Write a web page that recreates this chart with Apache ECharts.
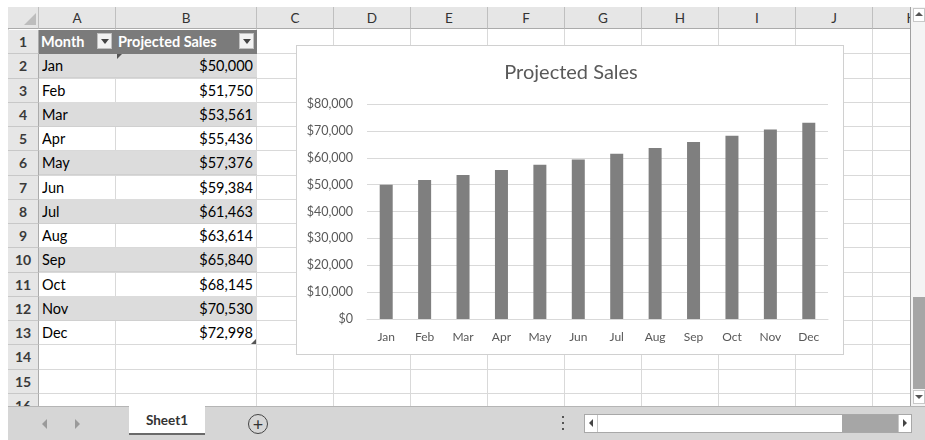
<!DOCTYPE html>
<html>
<head>
<meta charset="utf-8">
<script src="https://cdn.jsdelivr.net/npm/echarts@6/dist/echarts.min.js"></script>
<style>
  html,body{margin:0;padding:0;background:#fff;}
  body{width:925px;height:440px;position:relative;overflow:hidden;font-family:Lato,"Open Sans",sans-serif;}
  .abs{position:absolute;box-sizing:border-box;}
  #sheet{position:absolute;left:8px;top:7px;width:902px;height:399px;overflow:hidden;}
  .hl{position:absolute;height:1px;background:#d9d9d9;}
  .vl{position:absolute;width:1px;background:#d9d9d9;}
  .colh{position:absolute;top:0;height:22px;background:#e6e6e6;border-right:1px solid #bfbfbf;border-bottom:1px solid #ababab;box-sizing:border-box;text-align:center;line-height:22px;font-size:13.5px;color:#333;}
  .rowh{position:absolute;left:0;width:31px;background:#e6e6e6;border-right:1px solid #ababab;border-bottom:1px solid #c8c8c8;box-sizing:border-box;text-align:center;font-size:14px;font-weight:bold;color:#3a3a3a;}
  .cell{position:absolute;box-sizing:border-box;font-size:14.5px;color:#000;white-space:nowrap;overflow:hidden;}
  .filt{position:absolute;width:15px;height:16px;background:#f2f2f2;border:1px solid #c0c0c0;box-sizing:border-box;}
  .filt:after{content:"";position:absolute;left:3px;top:5px;border-left:4px solid transparent;border-right:4px solid transparent;border-top:5px solid #444;}
  #chartBox{position:absolute;left:296px;top:45px;width:548px;height:310px;background:#fff;border:1px solid #d0d0d0;box-sizing:border-box;}
  #chart{position:absolute;left:0;top:0;width:548px;height:310px;}
</style>
</head>
<body>
<div id="sheet"></div>
<div id="chartBox"><div id="chart"></div></div>
<script>
// ---- data ----
const months = ["Jan","Feb","Mar","Apr","May","Jun","Jul","Aug","Sep","Oct","Nov","Dec"];
const sales = [50000,51750,53561,55436,57376,59384,61463,63614,65840,68145,70530,72998];
const yTicks = [0,10000,20000,30000,40000,50000,60000,70000,80000];
const colLetters = ["A","B","C","D","E","F","G","H","I","J","K"];
const headers = ["Month","Projected Sales"];

// ---- spreadsheet grid ----
const sheet = document.getElementById('sheet');
const ox = 8, oy = 7;
const colEdges = [39,116,257,334,411,488,565,642,719,796,873,950].map(v=>v-ox);
const rowTop0 = 30 - oy, rowH = 24.25, nRows = 16;
function el(cls, style, html){const d=document.createElement('div');d.className=cls;Object.assign(d.style,style);if(html!==undefined)d.innerHTML=html;sheet.appendChild(d);return d;}
el('abs',{left:'0px',top:'0px',width:'31px',height:'22px',background:'#e6e6e6',borderRight:'1px solid #bfbfbf',borderBottom:'1px solid #ababab'});
el('abs',{left:'16px',top:'6px',width:'0',height:'0',borderLeft:'12px solid transparent',borderBottom:'12px solid #bdbdbd'});
for(let c=0;c<colLetters.length;c++){
  el('colh',{left:colEdges[c]+'px',width:(colEdges[c+1]-colEdges[c])+'px'},colLetters[c]);
}
for(let r=0;r<=nRows;r++){
  el('hl',{left:'31px',top:(rowTop0+r*rowH+rowH-1)+'px',width:'880px'});
}
for(let c=0;c<colEdges.length;c++){
  el('vl',{left:(colEdges[c+1]-1)+'px',top:'22px',height:'380px'});
}
for(let r=0;r<=months.length;r++){
  const top = rowTop0 + r*rowH;
  const tableW = colEdges[2]-colEdges[0];
  if(r===0){
    el('abs',{left:colEdges[0]+'px',top:(top-0.5)+'px',width:tableW+'px',height:(rowH)+'px',background:'#7b7b7b'});
  } else if(r%2===1){
    el('abs',{left:colEdges[0]+'px',top:(top-0.5)+'px',width:tableW+'px',height:(rowH)+'px',background:'#dcdcdc',borderBottom:'1px solid #d0d0d0'});
  }
  const lh = (rowH-1)+'px';
  if(r===0){
    el('cell',{left:(colEdges[0]+2)+'px',top:top+'px',width:'75px',height:lh,lineHeight:lh,color:'#fff',fontWeight:'bold'},headers[0]);
    el('cell',{left:(colEdges[1]+2)+'px',top:top+'px',width:'130px',height:lh,lineHeight:lh,color:'#fff',fontWeight:'bold'},headers[1]);
    el('filt',{left:(97-ox)+'px',top:(top+3)+'px'});
    el('filt',{left:(239-ox)+'px',top:(top+3)+'px'});
  } else {
    el('cell',{left:(colEdges[0]+3)+'px',top:top+'px',width:'72px',height:lh,lineHeight:lh},months[r-1]);
    el('cell',{left:colEdges[1]+'px',top:top+'px',width:(colEdges[2]-colEdges[1]-4)+'px',height:lh,lineHeight:lh,textAlign:'right'},'$'+sales[r-1].toLocaleString('en-US'));
  }
}
el('abs',{left:(colEdges[1]+1)+'px',top:(rowTop0+rowH)+'px',width:'0',height:'0',borderRight:'5px solid transparent',borderTop:'5px solid #555'});
el('abs',{left:(colEdges[2]-6)+'px',top:(rowTop0+13*rowH-6)+'px',width:'0',height:'0',borderLeft:'5px solid transparent',borderBottom:'5px solid #555'});
for(let r=0;r<nRows;r++){
  const top = rowTop0 + r*rowH;
  el('rowh',{top:top+'px',height:rowH+'px',lineHeight:(rowH-1)+'px'},String(r+1));
}

// ---- scrollbars and tab bar ----
(function(){
  const b=document.body;
  function a(style,html){const d=document.createElement('div');d.className='abs';Object.assign(d.style,style);if(html)d.innerHTML=html;b.appendChild(d);return d;}
  a({left:'910px',top:'7px',width:'15px',height:'399px',background:'#f4f4f4',borderLeft:'1px solid #a0a0a0'});
  a({left:'913px',top:'8px',width:'12px',height:'14px',background:'#fff',border:'1px solid #c8c8c8'});
  a({left:'915px',top:'12px',width:'0',height:'0',borderLeft:'4px solid transparent',borderRight:'4px solid transparent',borderBottom:'4px solid #555'});
  a({left:'913px',top:'297px',width:'12px',height:'92px',background:'#a6a6a6'});
  a({left:'913px',top:'390px',width:'12px',height:'14px',background:'#fff',border:'1px solid #c8c8c8'});
  a({left:'915px',top:'395px',width:'0',height:'0',borderLeft:'4px solid transparent',borderRight:'4px solid transparent',borderTop:'4px solid #555'});
  a({left:'8px',top:'406px',width:'917px',height:'34px',background:'#d6d6d6',borderTop:'1px solid #b5b5b5'});
  a({left:'42px',top:'419px',width:'0',height:'0',borderTop:'5px solid transparent',borderBottom:'5px solid transparent',borderRight:'5px solid #9a9a9a'});
  a({left:'75px',top:'419px',width:'0',height:'0',borderTop:'5px solid transparent',borderBottom:'5px solid transparent',borderLeft:'5px solid #9a9a9a'});
  a({left:'129px',top:'406px',width:'76px',height:'29px',background:'#fff',borderBottom:'2px solid #6a6a6a',textAlign:'center',lineHeight:'29px',fontWeight:'bold',fontSize:'13.5px',color:'#333'},'Sheet1');
  a({left:'248px',top:'414px',width:'20px',height:'20px',borderRadius:'50%',border:'1.5px solid #444',textAlign:'center',lineHeight:'18px',fontSize:'18px',color:'#333'},'+');
  a({left:'562px',top:'416px',width:'2px',height:'2px',background:'#555'});
  a({left:'562px',top:'422px',width:'2px',height:'2px',background:'#555'});
  a({left:'562px',top:'428px',width:'2px',height:'2px',background:'#555'});
  a({left:'584px',top:'414px',width:'328px',height:'19px',background:'#fff',border:'1px solid #a8a8a8'});
  a({left:'842px',top:'415px',width:'56px',height:'17px',background:'#a6a6a6'});
  a({left:'585px',top:'415px',width:'13px',height:'17px',background:'#fff',borderRight:'1px solid #c8c8c8'});
  a({left:'589px',top:'419px',width:'0',height:'0',borderTop:'4px solid transparent',borderBottom:'4px solid transparent',borderRight:'4px solid #444'});
  a({left:'898px',top:'415px',width:'13px',height:'17px',background:'#fff',borderLeft:'1px solid #c8c8c8'});
  a({left:'903px',top:'419px',width:'0',height:'0',borderTop:'4px solid transparent',borderBottom:'4px solid transparent',borderLeft:'4px solid #444'});
})();

// ---- chart ----
const chart = echarts.init(document.getElementById('chart'), null, {renderer:'canvas'});
chart.setOption({
  animation:false,
  backgroundColor:'transparent',
  title:{text:'Projected Sales',left:'center',top:12,textStyle:{fontFamily:'Lato',fontSize:20,fontWeight:'normal',color:'#595959'}},
  grid:{left:70,right:17,top:58,bottom:37,containLabel:false},
  xAxis:{type:'category',data:months,
    axisLine:{lineStyle:{color:'#d9d9d9'}},axisTick:{show:false},
    axisLabel:{color:'#595959',fontFamily:'Lato',fontSize:12,margin:12}},
  yAxis:{type:'value',min:yTicks[0],max:yTicks[yTicks.length-1],interval:yTicks[1]-yTicks[0],
    axisLine:{show:false},axisTick:{show:false},
    splitLine:{lineStyle:{color:'#d9d9d9'}},
    axisLabel:{color:'#595959',fontFamily:'Lato',fontSize:12.5,margin:14,
      formatter:v=>'$'+v.toLocaleString('en-US')}},
  series:[{type:'bar',data:sales,barWidth:13,itemStyle:{color:'#7f7f7f'}}]
});
</script>
</body>
</html>
